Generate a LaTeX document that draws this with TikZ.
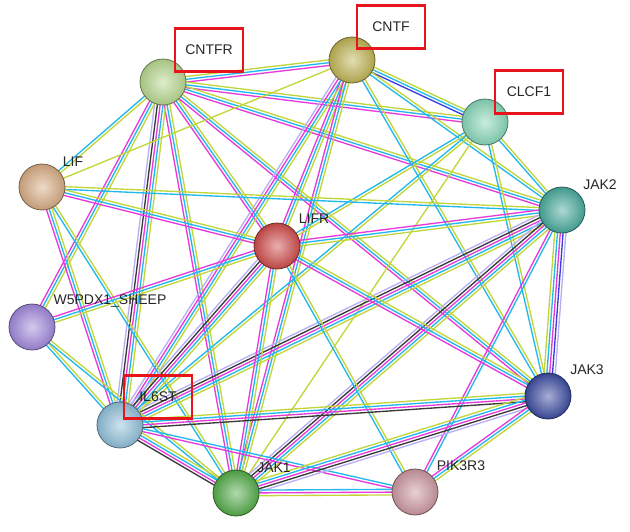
\documentclass[tikz,border=0pt]{standalone}
\usepackage{fontspec}
\setmainfont{Liberation Sans}
\usetikzlibrary{calc}
\pgfdeclarelayer{background}
\pgfsetlayers{background,main}
\definecolor{dbcol}{HTML}{22B8EE}
\definecolor{expcol}{HTML}{E83ADB}
\definecolor{txtcol}{HTML}{C2D63A}
\definecolor{coexcol}{HTML}{3A3A3A}
\definecolor{homcol}{HTML}{B8B0F4}
\definecolor{occcol}{HTML}{3C3CE0}
\definecolor{boxred}{HTML}{E8141C}
\definecolor{cntfrcol}{HTML}{B8D890}
\definecolor{cntfcol}{HTML}{C0B454}
\definecolor{clcfcol}{HTML}{88D8B8}
\definecolor{lifcol}{HTML}{D8AC84}
\definecolor{jaktwocol}{HTML}{48AA9C}
\definecolor{lifrcol}{HTML}{D04C4C}
\definecolor{wpdxcol}{HTML}{A088DC}
\definecolor{ilsixcol}{HTML}{90C0DA}
\definecolor{jakthreecol}{HTML}{3C4CA0}
\definecolor{jakonecol}{HTML}{54AC4A}
\definecolor{pikcol}{HTML}{CC98A0}
\tikzset{protein/.style={circle, minimum size=46pt, inner sep=0pt, shading=radial,
		inner color=#1!45!white, outer color=#1!90!black, draw=#1!55!black, line width=0.8pt},
	edge/.style={line width=1.35pt},
	gene/.style={font=\fontsize{14}{16}\selectfont, text=black!85, inner sep=1pt},
	marked/.style={gene, draw=boxred, line width=2.4pt, minimum width=68pt, minimum height=43pt}}
% one line per evidence colour, side by side
\newcommand{\interact}[3]{%
	\xdef\nlines{0}%
	\foreach \c in {#3}{\pgfmathtruncatemacro\tmp{\nlines+1}\xdef\nlines{\tmp}}%
	\foreach \c [count=\i] in {#3}{%
		\pgfmathsetmacro\off{(\i-(\nlines+1)/2)*2.8}%
		\draw[edge, \c] ($(#1)!\off pt!90:(#2)$) -- ($(#2)!\off pt!-90:(#1)$);}}

\begin{document}
\begin{tikzpicture}[x=1pt,y=-1pt]
		\useasboundingbox (0,0) rectangle (630,531);
		\node[protein=cntfrcol] (cntfr) at (163,82) {};
		\node[protein=cntfcol] (cntf) at (352,60) {};
		\node[protein=clcfcol] (clcf) at (485,122) {};
		\node[protein=lifcol] (lif) at (42,187) {};
		\node[protein=jaktwocol] (jaktwo) at (562,210) {};
		\node[protein=lifrcol] (lifr) at (277,246) {};
		\node[protein=wpdxcol] (wpdx) at (32,327) {};
		\node[protein=ilsixcol] (ilsix) at (120,425) {};
		\node[protein=jakthreecol] (jakthree) at (548,396) {};
		\node[protein=jakonecol] (jakone) at (236,493) {};
		\node[protein=pikcol] (pik) at (415,492) {};
		
		\node[marked] (tcntfr) at (209,50) {CNTFR};
		\node[marked] (tcntf) at (391,27) {CNTF};
		\node[marked] (tclcf) at (529,92) {CLCF1};
		\node[marked] (tilsix) at (158,397) {IL6ST};
		\node[gene] (tlif) at (73,162) {LIF};
		\node[gene] (tjaktwo) at (600,185) {JAK2};
		\node[gene] (tlifr) at (314,219) {LIFR};
		\node[gene] (twpdx) at (110,301) {W5PDX1\_SHEEP};
		\node[gene] (tjakthree) at (587,370) {JAK3};
		\node[gene] (tjakone) at (274,468) {JAK1};
		\node[gene] (tpik) at (461,466) {PIK3R3};
		
		\begin{pgfonlayer}{background}
			\interact{cntfr}{cntf}{expcol,dbcol,txtcol}
			\interact{cntfr}{clcf}{expcol,dbcol,txtcol}
			\interact{cntfr}{jaktwo}{expcol,dbcol,txtcol}
			\interact{cntfr}{lifr}{expcol,dbcol,txtcol}
			\interact{cntfr}{jakthree}{expcol,dbcol,txtcol}
			\interact{cntfr}{jakone}{expcol,dbcol,txtcol}
			\interact{cntfr}{ilsix}{homcol,coexcol,expcol,dbcol,txtcol}
			\interact{cntfr}{lif}{dbcol,txtcol}
			\interact{cntfr}{wpdx}{expcol,dbcol,txtcol}
			\interact{cntf}{clcf}{occcol,dbcol,txtcol}
			\interact{cntf}{jaktwo}{dbcol,txtcol}
			\interact{cntf}{lifr}{expcol,dbcol,txtcol}
			\interact{cntf}{ilsix}{homcol,expcol,dbcol,txtcol}
			\interact{cntf}{jakone}{expcol,dbcol,txtcol}
			\interact{cntf}{lif}{txtcol}
			\interact{cntf}{jakthree}{dbcol,txtcol}
			\interact{clcf}{jaktwo}{dbcol,txtcol}
			\interact{clcf}{lifr}{dbcol,txtcol}
			\interact{clcf}{ilsix}{dbcol,txtcol}
			\interact{clcf}{jakthree}{dbcol,txtcol}
			\interact{clcf}{jakone}{txtcol}
			\interact{lif}{jaktwo}{dbcol,txtcol}
			\interact{lif}{lifr}{expcol,dbcol,txtcol}
			\interact{lif}{ilsix}{expcol,dbcol,txtcol}
			\interact{lif}{jakone}{dbcol,txtcol}
			\interact{jaktwo}{lifr}{expcol,dbcol,txtcol}
			\interact{jaktwo}{ilsix}{homcol,coexcol,expcol,dbcol,txtcol}
			\interact{jaktwo}{jakone}{homcol,coexcol,expcol,dbcol,txtcol}
			\interact{jaktwo}{jakthree}{txtcol,dbcol,expcol,occcol,homcol}
			\interact{jaktwo}{pik}{expcol,dbcol}
			\interact{lifr}{wpdx}{expcol,dbcol,txtcol}
			\interact{lifr}{ilsix}{homcol,coexcol,expcol,dbcol,txtcol}
			\interact{lifr}{jakone}{expcol,dbcol,txtcol}
			\interact{lifr}{jakthree}{expcol,dbcol,txtcol}
			\interact{lifr}{pik}{dbcol,txtcol}
			\interact{wpdx}{ilsix}{dbcol,txtcol}
			\interact{wpdx}{jakone}{dbcol,txtcol}
			\interact{ilsix}{jakthree}{coexcol,expcol,dbcol,txtcol}
			\interact{ilsix}{jakone}{coexcol,expcol,dbcol,txtcol}
			\interact{ilsix}{pik}{expcol,dbcol}
			\interact{jakone}{jakthree}{homcol,coexcol,expcol,dbcol,txtcol}
			\interact{jakone}{pik}{txtcol,expcol,dbcol}
			\interact{jakthree}{pik}{expcol,dbcol,txtcol}
		\end{pgfonlayer}
		\end{tikzpicture}
\end{document}
